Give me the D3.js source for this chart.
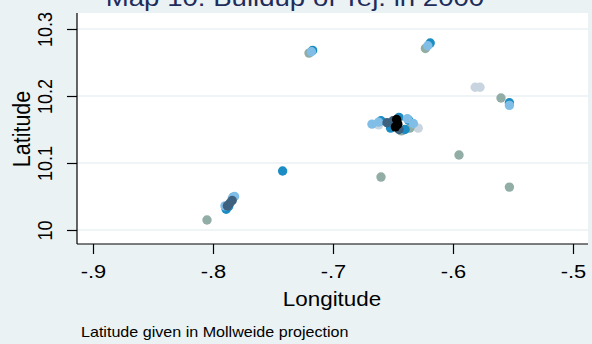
<!DOCTYPE html>
<html>
<head>
<meta charset="utf-8">
<script src="https://cdn.jsdelivr.net/npm/d3@7"></script>
<style>
  html, body { margin: 0; padding: 0; background: #eaf2f3; }
  svg { display: block; font-family: "Liberation Sans", Arial, Helvetica, sans-serif; }
</style>
</head>
<body>
<svg id="chart" width="592" height="344"></svg>
<script>
// tick values
const xTicks = [-0.9, -0.8, -0.7, -0.6, -0.5];
const yTicks = [10, 10.1, 10.2, 10.3];
const xTickLabels = ['-.9', '-.8', '-.7', '-.6', '-.5'];
const yTickLabels = ['10', '10.1', '10.2', '10.3'];

// series, drawn in this order (later ones on top)
const lightGray = [
  [-0.5815, 10.213], [-0.5775, 10.213], [-0.629, 10.152], [-0.633, 10.155],
  [-0.662, 10.157]
];
const grayGreen = [
  [-0.805, 10.015], [-0.66, 10.079], [-0.595, 10.112], [-0.56, 10.197],
  [-0.553, 10.064], [-0.72, 10.264], [-0.623, 10.271], [-0.643, 10.148],
  [-0.636, 10.152]
];
const blue = [
  [-0.742, 10.088], [-0.717, 10.268], [-0.619, 10.279], [-0.553, 10.19],
  [-0.66, 10.163], [-0.645, 10.168], [-0.637, 10.164], [-0.652, 10.152],
  [-0.64, 10.15], [-0.789, 10.031], [-0.787, 10.035], [-0.783, 10.049]
];
const lightBlue = [
  [-0.718, 10.266], [-0.621, 10.275], [-0.553, 10.186], [-0.6675, 10.158],
  [-0.662, 10.161], [-0.633, 10.159], [-0.638, 10.166], [-0.782, 10.05],
  [-0.784, 10.047], [-0.79, 10.036]
];
const darkSlate = [
  [-0.655, 10.16], [-0.648, 10.155], [-0.65, 10.163], [-0.645, 10.15],
  [-0.788, 10.036], [-0.786, 10.04], [-0.784, 10.044]
];
const black = [
  [-0.647, 10.165], [-0.646, 10.158], [-0.648, 10.154]
];

const series = [
  { name: 'lightGray', color: '#c8d4df', data: lightGray },
  { name: 'grayGreen', color: '#92ada5', data: grayGreen },
  { name: 'blue', color: '#1b8dc4', data: blue },
  { name: 'lightBlue', color: '#80bee7', data: lightBlue },
  { name: 'darkSlate', color: '#3f6180', data: darkSlate },
  { name: 'black', color: '#000000', data: black }
];

const svg = d3.select('#chart');
const plot = { left: 77, right: 588, top: 13, bottom: 244 };
const stretch = 1.15; // the source picture is a bit wider than tall

const x = d3.scaleLinear().domain([-0.9, -0.5]).range([93, 573]);
const y = d3.scaleLinear().domain([10, 10.3]).range([230, 29]);

// plot region
svg.append('rect')
  .attr('x', plot.left).attr('y', plot.top)
  .attr('width', plot.right - plot.left).attr('height', plot.bottom - plot.top)
  .attr('fill', '#ffffff');

// gridlines
svg.append('g')
  .selectAll('line')
  .data(yTicks)
  .join('line')
  .attr('x1', plot.left).attr('x2', plot.right)
  .attr('y1', d => y(d)).attr('y2', d => y(d))
  .attr('stroke', '#eaf2f3').attr('stroke-width', 1.5);

// markers
const g = svg.append('g');
series.forEach(s => {
  g.append('g')
    .attr('class', s.name)
    .selectAll('circle')
    .data(s.data)
    .join('circle')
    .attr('cx', d => x(d[0]))
    .attr('cy', d => y(d[1]))
    .attr('r', 4.7)
    .attr('fill', s.color);
});

// axes
const xAxis = d3.axisBottom(x)
  .tickValues(xTicks)
  .tickFormat((d, i) => xTickLabels[i])
  .tickSize(10)
  .tickSizeOuter(0);
const xg = svg.append('g').attr('transform', `translate(0,${plot.bottom})`).call(xAxis);
xg.select('.domain').remove();
xg.append('line')
  .attr('x1', plot.left).attr('x2', plot.right)
  .attr('stroke', '#000').attr('stroke-width', 1.2);
xg.selectAll('.tick line').attr('stroke', '#000').attr('stroke-width', 1.2);
xg.selectAll('.tick text')
  .attr('y', 0).attr('dy', 0)
  .attr('transform', `translate(0,34) scale(${stretch},1)`)
  .attr('fill', '#000')
  .style('font-size', '19px')
  .style('font-family', '"Liberation Sans", Arial, sans-serif');

const yAxis = d3.axisLeft(y)
  .tickValues(yTicks)
  .tickFormat((d, i) => yTickLabels[i])
  .tickSize(10)
  .tickSizeOuter(0);
const yg = svg.append('g').attr('transform', `translate(${plot.left},0)`).call(yAxis);
yg.select('.domain').remove();
yg.append('line')
  .attr('y1', plot.top).attr('y2', plot.bottom)
  .attr('stroke', '#000').attr('stroke-width', 1.2);
yg.selectAll('.tick line').attr('stroke', '#000').attr('stroke-width', 1.2);
yg.selectAll('.tick text')
  .attr('x', 0).attr('dy', 0)
  .attr('transform', `translate(-25,0) scale(${stretch},1) rotate(-90)`)
  .attr('text-anchor', 'middle')
  .attr('fill', '#000')
  .style('font-size', '18px')
  .style('font-family', '"Liberation Sans", Arial, sans-serif');

// axis titles
svg.append('text')
  .attr('transform', `translate(332,306) scale(${stretch},1)`)
  .attr('text-anchor', 'middle')
  .style('font-size', '19.5px')
  .text('Longitude');

svg.append('text')
  .attr('transform', `translate(30,129) scale(${stretch},1) rotate(-90)`)
  .attr('text-anchor', 'middle')
  .style('font-size', '21.5px')
  .text('Latitude');

// note
svg.append('text')
  .attr('transform', `translate(81,337) scale(${stretch},1)`)
  .style('font-size', '14px')
  .text('Latitude given in Mollweide projection');

// title (clipped at top, as in the source)
svg.append('text')
  .attr('transform', `translate(295,6) scale(${stretch},1)`)
  .attr('text-anchor', 'middle')
  .attr('fill', '#1e2d5b')
  .style('font-size', '24px')
  .text('Map 10: Buildup of Tej. in 2000');
</script>
</body>
</html>
